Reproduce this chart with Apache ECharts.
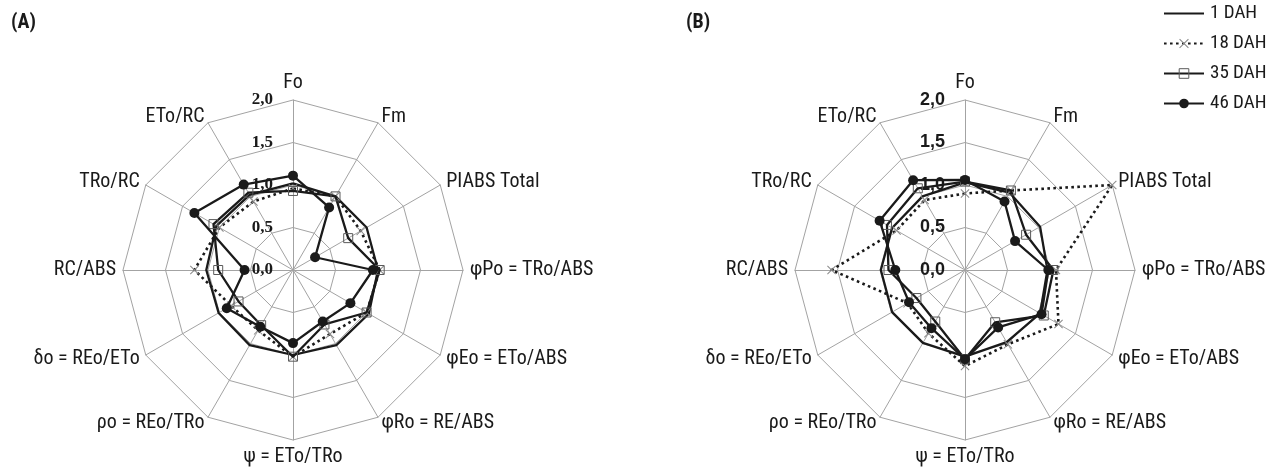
<!DOCTYPE html>
<html>
<head>
<meta charset="utf-8">
<script src="https://cdn.jsdelivr.net/npm/echarts@6/dist/echarts.min.js"></script>
<style>
  html, body { margin: 0; padding: 0; background: #fff; }
  #chart { width: 1282px; height: 468px; }
</style>
</head>
<body>
<div id="chart"></div>
<script>
// Radar axes, listed clockwise from the top
const indicatorNames = ['Fo', 'Fm', 'PIABS Total', 'φPo = TRo/ABS', 'φEo = ETo/ABS', 'φRo = RE/ABS',
  'ψ = ETo/TRo', 'ρo = REo/TRo', 'δo = REo/ETo', 'RC/ABS', 'TRo/RC', 'ETo/RC'];
const seriesNames = ['1 DAH', '18 DAH', '35 DAH', '46 DAH'];
const panelLabels = ['(A)', '(B)'];
const scaleMin = 0, scaleMax = 2, scaleStep = 0.5;

// Panel (A) values, same order as indicatorNames
const a1DAH  = [1.02, 1.00, 1.00, 1.00, 1.03, 1.02, 1.00, 1.02, 1.01, 1.02, 1.04, 1.02];
const a18DAH = [0.96, 1.00, 0.92, 1.02, 1.00, 0.87, 1.02, 0.82, 0.84, 1.16, 1.00, 0.93];
const a35DAH = [0.93, 1.00, 0.75, 1.02, 1.00, 0.74, 1.02, 0.75, 0.74, 0.88, 1.08, 1.05];
const a46DAH = [1.11, 0.85, 0.30, 0.94, 0.78, 0.70, 0.86, 0.77, 0.90, 0.57, 1.34, 1.16];

// Panel (B) values
const b1DAH  = [1.03, 1.05, 1.02, 0.97, 1.02, 0.98, 1.02, 0.99, 0.99, 0.99, 0.99, 1.00];
const b18DAH = [0.90, 1.08, 2.00, 1.07, 1.27, 1.01, 1.13, 0.86, 0.78, 1.57, 0.93, 0.95];
const b35DAH = [1.04, 1.08, 0.83, 1.04, 1.07, 0.71, 1.05, 0.70, 0.66, 0.90, 1.06, 1.11];
const b46DAH = [1.06, 0.93, 0.68, 0.98, 1.04, 0.78, 1.05, 0.79, 0.76, 0.82, 1.16, 1.22];

const panelA = [a1DAH, a18DAH, a35DAH, a46DAH];
const panelB = [b1DAH, b18DAH, b35DAH, b46DAH];

const INK = '#1a1a1a';
const GRID_GRAY = '#a3a3a3';
const NARROW = "'Liberation Sans Narrow', 'Roboto Condensed', 'DejaVu Sans Condensed', 'Liberation Sans', sans-serif";
const CROSS = 'path://M0,0.8L0.8,0L5,4.2L9.2,0L10,0.8L5.8,5L10,9.2L9.2,10L5,5.8L0.8,10L0,9.2L4.2,5Z';

// ECharts lays radar indicators out counter-clockwise; keep the first axis on top
// and walk the rest backwards so the figure reads clockwise.
const order = [0].concat(indicatorNames.map((_, i) => i).slice(1).reverse());
const reorder = arr => order.map(i => arr[i]);

const styleFor = {
  '1 DAH':  { symbol: 'none', symbolSize: 0,
              lineStyle: { color: INK, width: 2.3, type: 'solid' },
              itemStyle: { color: INK } },
  '18 DAH': { symbol: CROSS, symbolSize: 9,
              lineStyle: { color: INK, width: 2.6, type: [2.6, 3.4] },
              itemStyle: { color: '#8c8c8c' } },
  '35 DAH': { symbol: 'rect', symbolSize: 9,
              lineStyle: { color: INK, width: 2.3, type: 'solid' },
              itemStyle: { color: 'rgba(255,255,255,0)', borderColor: '#5a5a5a', borderWidth: 1 } },
  '46 DAH': { symbol: 'circle', symbolSize: 10,
              lineStyle: { color: INK, width: 2.3, type: 'solid' },
              itemStyle: { color: INK } }
};

const centers = [[293, 270], [965, 270]];
const RADIUS = 170;
const tickFonts = [
  { fontFamily: "'Liberation Serif', 'DejaVu Serif', serif", fontSize: 17 },
  { fontFamily: "'Liberation Sans', Arial, sans-serif", fontSize: 18 }
];

const radars = centers.map(c => ({
  center: c,
  radius: RADIUS,
  startAngle: 90,
  splitNumber: (scaleMax - scaleMin) / scaleStep,
  shape: 'polygon',
  nameGap: 7,
  indicator: reorder(indicatorNames).map(n => ({ name: n, min: scaleMin, max: scaleMax })),
  axisName: { color: INK, fontFamily: NARROW, fontSize: 20 },
  axisLine: { lineStyle: { color: GRID_GRAY, width: 1 } },
  splitLine: { lineStyle: { color: GRID_GRAY, width: 1 } },
  splitArea: { show: false },
  axisTick: { show: false },
  axisLabel: { show: false }
}));

// Value scale labels sit just left of each panel's vertical axis
const grids = centers.map(c => ({ left: c[0], top: c[1] - RADIUS, width: 10, height: RADIUS }));
const xAxes = centers.map((_, i) => ({ type: 'value', gridIndex: i, show: false }));
const yAxes = centers.map((_, i) => ({
  type: 'value', gridIndex: i, min: scaleMin, max: scaleMax, interval: scaleStep,
  axisLine: { show: false }, axisTick: { show: false }, splitLine: { show: false },
  axisLabel: {
    margin: 20, color: INK, fontWeight: 'bold',
    fontSize: tickFonts[i].fontSize, fontFamily: tickFonts[i].fontFamily,
    formatter: v => v.toFixed(1).replace('.', ',')
  }
}));

// Line series carrying the legend glyphs (line + marker)
const legendCarriers = seriesNames.map(name => ({
  type: 'line', name, xAxisIndex: 0, yAxisIndex: 0, data: [], silent: true,
  symbol: styleFor[name].symbol === 'none' ? 'circle' : styleFor[name].symbol,
  lineStyle: styleFor[name].lineStyle,
  itemStyle: styleFor[name].itemStyle
}));

const radarSeries = [panelA, panelB].flatMap((panel, r) => seriesNames.map((name, k) => ({
  type: 'radar', radarIndex: r, name, z: 2 + k,
  symbol: styleFor[name].symbol, symbolSize: styleFor[name].symbolSize,
  lineStyle: styleFor[name].lineStyle,
  itemStyle: styleFor[name].itemStyle,
  areaStyle: { opacity: 0 },
  emphasis: { disabled: true },
  data: [{ name, value: reorder(panel[k]) }]
})));

const chart = echarts.init(document.getElementById('chart'), null, { renderer: 'canvas' });
chart.setOption({
  animation: false,
  backgroundColor: '#fff',
  title: panelLabels.map((t, i) => ({
    text: t, left: [6, 681][i], top: 8,
    textStyle: { fontFamily: NARROW, fontWeight: 'bold', fontSize: 20, color: INK }
  })),
  legend: {
    orient: 'vertical', left: 1163, top: 4, padding: 0,
    itemWidth: 40, itemHeight: 12, itemGap: 11,
    selectedMode: false,
    textStyle: { fontFamily: NARROW, fontSize: 19, color: INK, padding: [0, 0, 0, 1] },
    data: [
      { name: '1 DAH', itemStyle: { opacity: 0 } },
      { name: '18 DAH' },
      { name: '35 DAH', itemStyle: { borderWidth: 1 } },
      { name: '46 DAH' }
    ]
  },
  grid: grids,
  xAxis: xAxes,
  yAxis: yAxes,
  radar: radars,
  series: legendCarriers.concat(radarSeries)
});
</script>
</body>
</html>
